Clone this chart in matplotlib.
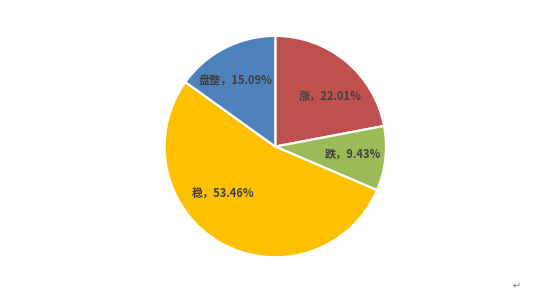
import numpy as np
import matplotlib
matplotlib.use("Agg")
import matplotlib.pyplot as plt

plt.rcParams['font.family'] = ['Noto Sans CJK SC', 'DejaVu Sans']

# data
categories = ['涨', '跌', '稳', '盘整']
shares = [22.01, 9.43, 53.46, 15.09]
colors = ['#C0504D', '#9BBB59', '#FFC000', '#4F81BD']

# label placement (radius fraction, angle tweak in degrees)
label_r = [0.67, 0.70, 0.636, 0.694]
label_shift = [-8, 0.7, -18, 4.2]

W, H = 552, 296
cx, cy, R = 275.3, 146.6, 110.7

fig = plt.figure(figsize=(W / 100, H / 100), dpi=100)
ax = fig.add_axes([(cx - R) / W, 1 - (cy + R) / H, 2 * R / W, 2 * R / H])

wedges, _ = ax.pie(shares, colors=colors, startangle=90, counterclock=False,
                   radius=1.0,
                   wedgeprops=dict(edgecolor='white', linewidth=1.6))
ax.set_xlim(-1, 1)
ax.set_ylim(-1, 1)
ax.set_aspect('equal')
ax.axis('off')

start = 90.0
for name, val, rf, sh in zip(categories, shares, label_r, label_shift):
    mid = start - val * 3.6 / 2 + sh
    start -= val * 3.6
    a = np.radians(mid)
    ax.text(rf * np.cos(a), rf * np.sin(a), f'{name}，{val:.2f}%',
            ha='center', va='center', fontsize=8, fontweight='bold',
            color='#404040')

fig.text(517 / W, 1 - 286 / H, '↵', ha='center', va='center',
         fontsize=7, color='#808080')

fig.savefig('out.png', dpi=100)
